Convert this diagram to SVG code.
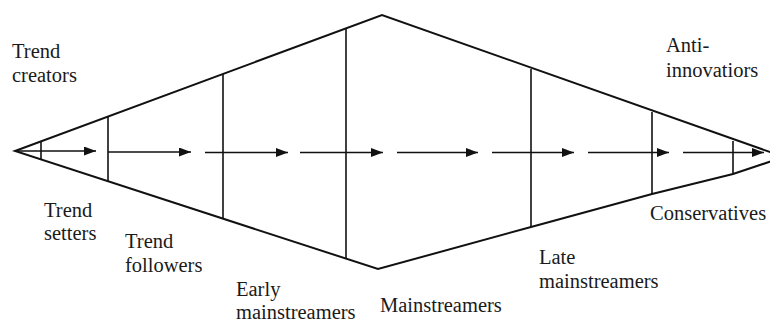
<svg xmlns="http://www.w3.org/2000/svg" width="770" height="322" viewBox="0 0 770 322">
<style>
.edge{fill:none;stroke:#111;stroke-width:2;stroke-linejoin:miter}
.div{stroke:#111;stroke-width:1.6}
.arr{stroke:#111;stroke-width:1.6;fill:none;marker-end:url(#ah)}
.lbl{font-family:'Liberation Serif','DejaVu Serif',serif;font-size:20.5px;fill:#1a1a1a}
</style>
<defs>
<marker id="ah" markerUnits="userSpaceOnUse" markerWidth="13" markerHeight="10" refX="12" refY="4.5" orient="auto">
<path d="M0,0 L12,4.5 L0,9 z" fill="#111"/>
</marker>
</defs>
<rect width="770" height="322" fill="#fff"/>
<g id="diamond">
<polyline class="edge" points="784,157 382,15 15,151 378,269 531,227 652,194 733,174 784,157"/>
</g>
<g id="dividers">
<line class="div" x1="41" y1="141" x2="41" y2="159"/>
<line class="div" x1="108" y1="116" x2="108" y2="181"/>
<line class="div" x1="223" y1="74" x2="223" y2="218"/>
<line class="div" x1="346" y1="28" x2="346" y2="258"/>
<line class="div" x1="531" y1="69" x2="531" y2="227"/>
<line class="div" x1="652" y1="112" x2="652" y2="194"/>
<line class="div" x1="733" y1="141" x2="733" y2="174"/>
</g>
<g id="connectors">
<line class="arr" x1="15" y1="151" x2="96" y2="151"/>
<line class="arr" x1="108" y1="152" x2="191" y2="152"/>
<line class="arr" x1="205" y1="152.5" x2="288" y2="152.5"/>
<line class="arr" x1="300" y1="152.5" x2="383" y2="152.5"/>
<line class="arr" x1="397" y1="152.5" x2="478" y2="152.5"/>
<line class="arr" x1="492" y1="152.5" x2="574" y2="152.5"/>
<line class="arr" x1="588" y1="152.5" x2="669" y2="152.5"/>
<line class="arr" x1="683" y1="152.5" x2="764" y2="152.5"/>
</g>
<g id="trend-creators" class="lbl"><text x="12" y="57.5">Trend</text><text x="12" y="82">creators</text></g>
<g id="anti-innovators" class="lbl"><text x="666" y="52">Anti-</text><text x="666" y="76.5">innovatiors</text></g>
<g id="trend-setters" class="lbl"><text x="44" y="216.5">Trend</text><text x="44" y="240">setters</text></g>
<g id="trend-followers" class="lbl"><text x="125" y="248">Trend</text><text x="125" y="272">followers</text></g>
<g id="early-mainstreamers" class="lbl"><text x="236" y="296">Early</text><text x="236" y="319">mainstreamers</text></g>
<g id="mainstreamers" class="lbl"><text x="380" y="311.5">Mainstreamers</text></g>
<g id="late-mainstreamers" class="lbl"><text x="539" y="264">Late</text><text x="539" y="288">mainstreamers</text></g>
<g id="conservatives" class="lbl"><text x="650" y="220">Conservatives</text></g>
</svg>
